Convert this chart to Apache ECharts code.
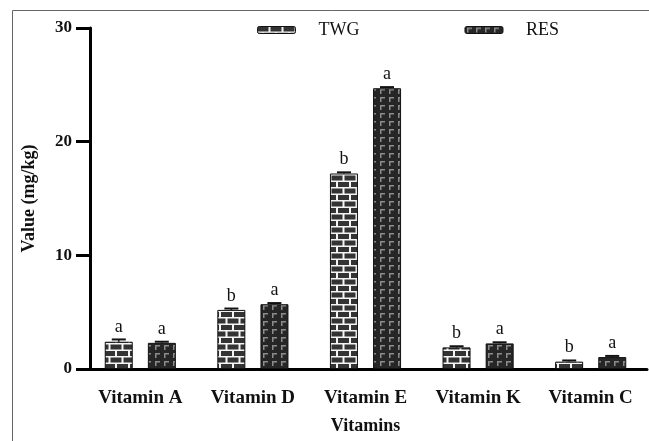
<!DOCTYPE html>
<html><head><meta charset="utf-8">
<script src="https://cdn.jsdelivr.net/npm/echarts@6/dist/echarts.min.js"></script>
<style>html,body{margin:0;padding:0;background:#fff}#c{width:649px;height:441px}</style>
</head><body><div id="c"></div>
<script>
const categories = ['Vitamin A','Vitamin D','Vitamin E','Vitamin K','Vitamin C'];
const seriesNames = ['TWG','RES'];
const twgValues = [2.4, 5.2, 17.2, 1.9, 0.65];
const resValues = [2.3, 5.7, 24.7, 2.25, 1.05];
const twgErrors = [0.2, 0.12, 0.1, 0.1, 0.1];
const resErrors = [0.1, 0.1, 0.1, 0.1, 0.1];
const twgLetters = ['a','b','b','b','b'];
const resLetters = ['a','a','a','a','a'];
const yTicks = [0, 10, 20, 30];

function brickPattern(){
  const c = document.createElement('canvas'); c.width = 13; c.height = 13;
  const g = c.getContext('2d');
  g.fillStyle = '#f4f4f4'; g.fillRect(0,0,13,13);
  g.fillStyle = '#333333';
  g.fillRect(0,0,11,5);
  g.fillRect(-6.5,6.5,11,5); g.fillRect(6.5,6.5,11,5);
  return c;
}
function resPattern(){
  const c = document.createElement('canvas'); c.width = 9; c.height = 8;
  const g = c.getContext('2d');
  g.fillStyle = '#262626'; g.fillRect(0,0,9,8);
  g.fillStyle = '#8c8c8c';
  g.fillRect(2,1,5,1.5); g.fillRect(2,1,1.5,5);
  return c;
}
const twgColor = {image: brickPattern(), repeat: 'repeat'};
const resColor = {image: resPattern(), repeat: 'repeat'};

const font = 'Liberation Serif';
const chart = echarts.init(document.getElementById('c'));

function errSeries(vals, errs, off){
  return {
    type: 'custom', silent: true, z: 5,
    data: vals.map((v,i)=>[i, v, errs[i]]),
    renderItem: function(params, api){
      const i = api.value(0), v = api.value(1), e = api.value(2);
      const p0 = api.coord([i, v]); const p1 = api.coord([i, v + e]);
      const x = p0[0] + off;
      return {type:'group', children:[
        {type:'line', shape:{x1:x, y1:p0[1], x2:x, y2:p1[1]}, style:{stroke:'#111', lineWidth:1.5}},
        {type:'line', shape:{x1:x-7, y1:p1[1], x2:x+7, y2:p1[1]}, style:{stroke:'#111', lineWidth:2}}
      ]};
    }
  };
}

chart.setOption({
  animation: false,
  backgroundColor: '#fff',
  graphic: [{type:'rect', left:10, top:8, shape:{width:700, height:500}, style:{fill:'none', stroke:'#666', lineWidth:1}, silent:true, z:-10}],
  legend: {
    left: 252, top: 16, itemWidth: 38, itemHeight: 7, itemGap: 105,
    data: seriesNames,
    textStyle: {fontFamily: font, fontSize: 18, color: '#111', padding:[0,0,0,18]},
    itemStyle: {borderColor:'#111', borderWidth:1}
  },
  grid: {left: 84, right: 2, top: 28, bottom: 72, outerBoundsMode: 'none', containLabel: false},
  xAxis: {
    type: 'category', data: categories,
    name: 'Vitamins', nameLocation: 'middle', nameGap: 48,
    nameTextStyle: {fontFamily: font, fontWeight: 'bold', fontSize: 18, color: '#111'},
    axisLine: {lineStyle: {color: '#000', width: 3}},
    axisTick: {alignWithLabel: true, length: 13, lineStyle: {width: 3, color:'#000'}},
    axisLabel: {fontFamily: font, fontWeight: 'bold', fontSize: 19, color: '#111', margin: 20}
  },
  yAxis: {
    type: 'value', min: yTicks[0], max: yTicks[yTicks.length-1], interval: 10, offset: -6,
    name: 'Value (mg/kg)', nameLocation: 'middle', nameGap: 52,
    nameTextStyle: {fontFamily: font, fontWeight: 'bold', fontSize: 18, color: '#111'},
    axisLine: {show: true, lineStyle: {color: '#000', width: 3}},
    axisTick: {show: true, length: 14, lineStyle: {width: 3, color:'#000'}},
    axisLabel: {fontFamily: font, fontWeight: 'bold', fontSize: 17, color: '#111', margin: 18},
    splitLine: {show: false}
  },
  series: [
    {name: seriesNames[0], type: 'bar', data: twgValues, barWidth: 28, barGap: '54%',
     itemStyle: {color: twgColor, borderColor: '#111', borderWidth: 1},
     label: {show: true, position: 'top', distance: 5, fontFamily: font, fontSize: 18, color: '#111',
       formatter: p => twgLetters[p.dataIndex]}},
    {name: seriesNames[1], type: 'bar', data: resValues, barWidth: 28, barGap: '54%',
     itemStyle: {color: resColor, borderColor: '#111', borderWidth: 1},
     label: {show: true, position: 'top', distance: 5, fontFamily: font, fontSize: 18, color: '#111',
       formatter: p => resLetters[p.dataIndex]}},
    errSeries(twgValues, twgErrors, -21.5),
    errSeries(resValues, resErrors, 21.5)
  ]
});
</script></body></html>
